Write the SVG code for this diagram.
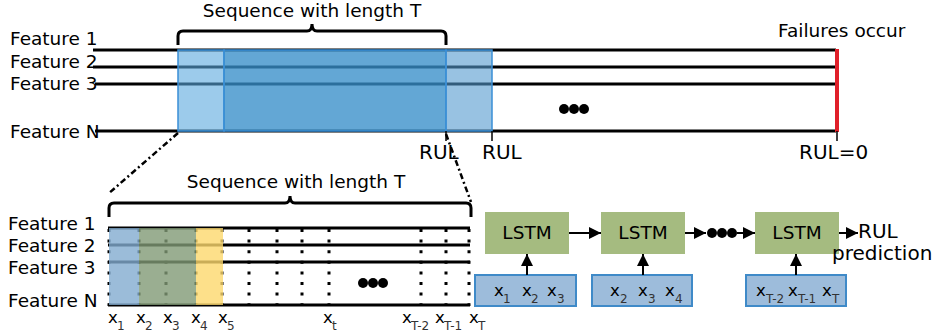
<svg xmlns="http://www.w3.org/2000/svg" width="938" height="335" viewBox="0 0 938 335">
<defs>
<style>
text{font-family:"DejaVu Sans","Verdana",sans-serif;fill:#000}
.lbl{font-size:18.5px}
.big{font-size:20px}
.xv{font-size:16.5px}
.sub{font-size:12px;fill:#333}
.fl{stroke:#000;stroke-width:3;fill:none}
.brace{stroke:#000;stroke-width:3;fill:none}
.dotv{stroke:#000;stroke-width:3;stroke-dasharray:3 7.6;fill:none}
.tick{stroke:#000;stroke-width:1.5}
.lstm{fill:#a5bb80}
.inp{fill:#9dbcdb;stroke:#3f8ac8;stroke-width:2}
.arr{stroke:#000;stroke-width:2;fill:none;marker-end:url(#ah)}
.dash{stroke:#000;stroke-width:2.5;stroke-dasharray:6 3 2 3;fill:none}
</style>
<marker id="ah" viewBox="0 0 10 10" refX="10" refY="5" markerWidth="6" markerHeight="6" markerUnits="strokeWidth" orient="auto">
<path d="M0,0 L10,5 L0,10 z" fill="#000"/>
</marker>
</defs>

<g id="top-timeline">
<line class="fl" x1="93" y1="50" x2="836" y2="50"/>
<line class="fl" x1="93" y1="67" x2="836" y2="67"/>
<line class="fl" x1="95" y1="84" x2="836" y2="84"/>
<line class="fl" x1="95" y1="131" x2="836" y2="131"/>
<rect x="178" y="50" width="46" height="81" fill="#5aa8dd" fill-opacity="0.6" stroke="#3a8fd6" stroke-width="1.5"/>
<rect x="224" y="50" width="222" height="81" fill="#378ec9" fill-opacity="0.78" stroke="#3a8fd6" stroke-width="1.5"/>
<rect x="446" y="50" width="46" height="81" fill="#5399cf" fill-opacity="0.6" stroke="#3a8fd6" stroke-width="1.5"/>
<line x1="837" y1="49" x2="837" y2="132" stroke="#e0202a" stroke-width="4"/>
<line class="tick" x1="446" y1="131" x2="446" y2="141"/>
<line class="tick" x1="492" y1="131" x2="492" y2="141"/>
<line class="tick" x1="837" y1="131" x2="837" y2="141"/>
<circle cx="564" cy="109" r="5"/><circle cx="574" cy="109" r="5"/><circle cx="584" cy="109" r="5"/>
</g>

<g id="top-labels">
<text class="lbl" x="10" y="45">Feature 1</text>
<text class="lbl" x="10" y="68">Feature 2</text>
<text class="lbl" x="10" y="90">Feature 3</text>
<text class="lbl" x="10" y="138">Feature N</text>
<text class="lbl" x="312" y="17" text-anchor="middle">Sequence with length T</text>
<text class="lbl" x="778" y="37">Failures occur</text>
<text class="big" x="419" y="159">RUL</text>
<text class="big" x="482" y="159">RUL</text>
<text class="big" x="799" y="159">RUL=0</text>
</g>

<g id="top-brace">
<path class="brace" d="M178,45 V36 Q178,31 183,31 H307 Q312,31 312,24 Q312,31 317,31 H441 Q446,31 446,36 V45"/>
</g>

<g id="zoom-lines">
<line class="dash" x1="178" y1="133" x2="108" y2="194"/>
<line class="dash" x1="446" y1="134" x2="471" y2="202"/>
</g>

<g id="bottom-sequence">
<line class="fl" x1="108" y1="228" x2="470" y2="228"/>
<line class="fl" x1="108" y1="245" x2="470" y2="245"/>
<line class="fl" x1="108" y1="262" x2="470" y2="262"/>
<line class="fl" x1="108" y1="305" x2="470" y2="305"/>
<g class="dots">
<line class="dotv" x1="109" y1="229" x2="109" y2="306"/>
<line class="dotv" x1="139" y1="229" x2="139" y2="306"/>
<line class="dotv" x1="166" y1="229" x2="166" y2="306"/>
<line class="dotv" x1="196" y1="229" x2="196" y2="306"/>
<line class="dotv" x1="222" y1="229" x2="222" y2="306"/>
<line class="dotv" x1="249" y1="229" x2="249" y2="306"/>
<line class="dotv" x1="277" y1="229" x2="277" y2="306"/>
<line class="dotv" x1="302" y1="229" x2="302" y2="306"/>
<line class="dotv" x1="329" y1="229" x2="329" y2="306"/>
<line class="dotv" x1="421" y1="229" x2="421" y2="306"/>
<line class="dotv" x1="446" y1="229" x2="446" y2="306"/>
<line class="dotv" x1="469" y1="229" x2="469" y2="306"/>
</g>
<rect x="109" y="228" width="30" height="77" fill="#82abcf" fill-opacity="0.8"/>
<rect x="139" y="228" width="57" height="77" fill="#819a76" fill-opacity="0.8"/>
<rect x="196" y="228" width="27" height="77" fill="#fcd86d" fill-opacity="0.8"/>
<circle cx="363" cy="283" r="5"/><circle cx="373" cy="283" r="5"/><circle cx="383" cy="283" r="5"/>
<path class="brace" d="M109,217 V208 Q109,203 114,203 H285 Q290,203 290,196 Q290,203 295,203 H466 Q471,203 471,208 V217"/>
</g>

<g id="bottom-labels">
<text class="lbl" x="8" y="230">Feature 1</text>
<text class="lbl" x="8" y="252">Feature 2</text>
<text class="lbl" x="8" y="274">Feature 3</text>
<text class="lbl" x="8" y="307">Feature N</text>
<text class="lbl" x="296" y="188" text-anchor="middle">Sequence with length T</text>
<text class="xv" x="108" y="323">x</text><text class="sub" x="117" y="330">1</text>
<text class="xv" x="136" y="323">x</text><text class="sub" x="145" y="330">2</text>
<text class="xv" x="163" y="323">x</text><text class="sub" x="172" y="330">3</text>
<text class="xv" x="191" y="323">x</text><text class="sub" x="200" y="330">4</text>
<text class="xv" x="218" y="323">x</text><text class="sub" x="227" y="330">5</text>
<text class="xv" x="323" y="323">x</text><text class="sub" x="332" y="330">t</text>
<text class="xv" x="402" y="323">x</text><text class="sub" x="411" y="330">T-2</text>
<text class="xv" x="435" y="323">x</text><text class="sub" x="444" y="330">T-1</text>
<text class="xv" x="469" y="323">x</text><text class="sub" x="478" y="330">T</text>
</g>

<g id="lstm1">
<rect class="lstm" x="485" y="212" width="84" height="42"/>
<text class="lbl" x="527" y="239" text-anchor="middle">LSTM</text>
</g>
<g id="lstm2">
<rect class="lstm" x="601" y="212" width="84" height="42"/>
<text class="lbl" x="643" y="239" text-anchor="middle">LSTM</text>
</g>
<g id="lstm3">
<rect class="lstm" x="755" y="212" width="84" height="42"/>
<text class="lbl" x="797" y="239" text-anchor="middle">LSTM</text>
</g>

<g id="input1">
<rect class="inp" x="475" y="275" width="101" height="31"/>
<text class="xv" x="494" y="296">x</text><text class="sub" x="503" y="303">1</text>
<text class="xv" x="522" y="296">x</text><text class="sub" x="531" y="303">2</text>
<text class="xv" x="547" y="296">x</text><text class="sub" x="557" y="303">3</text>
</g>
<g id="input2">
<rect class="inp" x="592" y="275" width="100" height="31"/>
<text class="xv" x="610" y="296">x</text><text class="sub" x="620" y="303">2</text>
<text class="xv" x="638" y="296">x</text><text class="sub" x="648" y="303">3</text>
<text class="xv" x="665" y="296">x</text><text class="sub" x="675" y="303">4</text>
</g>
<g id="input3">
<rect class="inp" x="746" y="275" width="100" height="31"/>
<text class="xv" x="756" y="296">x</text><text class="sub" x="766" y="303">T-2</text>
<text class="xv" x="788" y="296">x</text><text class="sub" x="798" y="303">T-1</text>
<text class="xv" x="822" y="296">x</text><text class="sub" x="832" y="303">T</text>
</g>

<g id="output">
<text class="big" x="858" y="238">RUL</text>
<text class="big" x="832" y="260">prediction</text>
</g>

<g id="connectors">
<line class="arr" x1="527" y1="275" x2="527" y2="254"/>
<line class="arr" x1="643" y1="275" x2="643" y2="254"/>
<line class="arr" x1="796" y1="275" x2="796" y2="254"/>
<line class="arr" x1="569" y1="233" x2="601" y2="233"/>
<line class="arr" x1="685" y1="233" x2="706" y2="233"/>
<circle cx="712" cy="233" r="5"/><circle cx="722" cy="233" r="5"/><circle cx="732" cy="233" r="5"/>
<line class="arr" x1="737" y1="233" x2="755" y2="233"/>
<line class="arr" x1="839" y1="233" x2="858" y2="233"/>
</g>
</svg>
